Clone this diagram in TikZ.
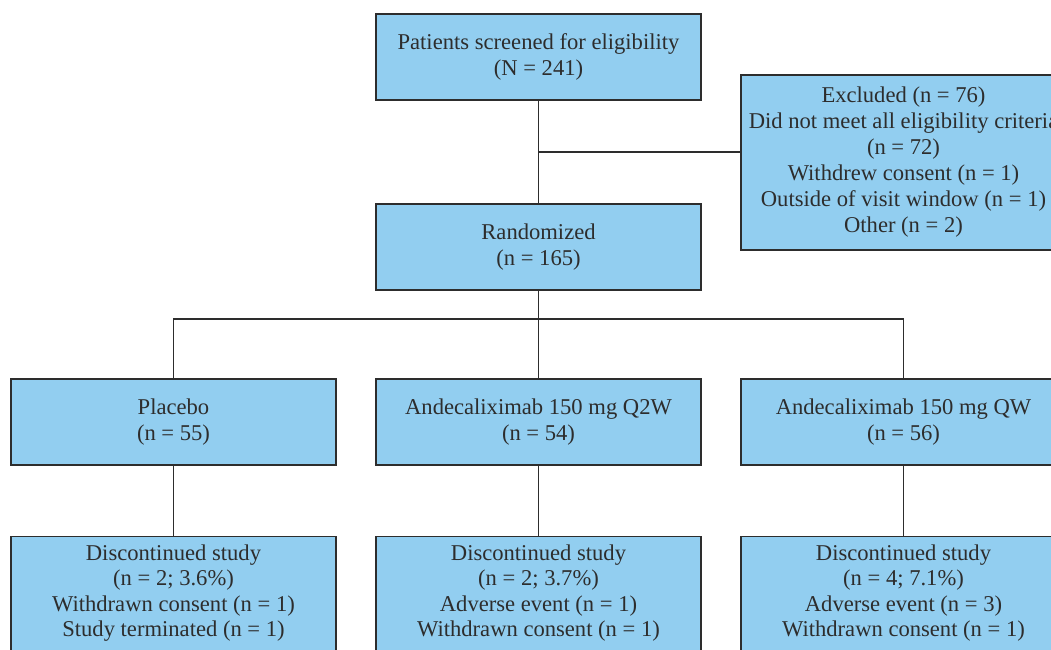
\documentclass[tikz,border=0pt]{standalone}
\usepackage{fontspec}
\setmainfont{Liberation Serif}
\usepackage{xcolor}
\usetikzlibrary{calc,positioning}
\definecolor{boxblue}{RGB}{146,206,240}
\definecolor{boxline}{RGB}{45,45,45}

\begin{document}
\begin{tikzpicture}[x=1pt,y=-1pt,
box/.style={rectangle,draw=boxline,line width=1.6pt,fill=boxblue,minimum width=325pt,minimum height=86pt,align=center,inner sep=0pt,font=\fontsize{22.6}{26}\selectfont,text=boxline},
dlab/.style={font=\fontsize{22.6}{25.6}\selectfont,text=boxline,align=center,anchor=north},
link/.style={draw=boxline,line width=1.4pt}]
	\clip (0,0) rectangle (1051,649);
	%screening
	\node[box] at (538.5,57) (screen) {Patients screened for eligibility\\(N = 241)};
	\node[box,minimum height=175pt] at (903.5,162.5) (excl) {Excluded (n = 76)\\Did not meet all eligibility criteria\\(n = 72)\\Withdrew consent (n = 1)\\Outside of visit window (n = 1)\\Other (n = 2)};
	\node[box] at (538.5,247) (rand) {Randomized\\(n = 165)};
	%arms
	\node[box] at (173.5,422) (plac) {Placebo\\(n = 55)};
	\node[box] at (538.5,422) (qtw) {Andecaliximab 150 mg Q2W\\(n = 54)};
	\node[box] at (903.5,422) (qw) {Andecaliximab 150 mg QW\\(n = 56)};
	%discontinued
	\node[box,minimum height=140pt,anchor=north] at ([yshift=-70pt]plac.south) (dplac) {};
	\node[box,minimum height=140pt,anchor=north] at ([yshift=-70pt]qtw.south) (dqtw) {};
	\node[box,minimum height=140pt,anchor=north] at ([yshift=-70pt]qw.south) (dqw) {};
	\node[dlab] at ([yshift=-5pt]dplac.north) (tplac) {Discontinued study\\(n = 2; 3.6\%)\\Withdrawn consent (n = 1)\\Study terminated (n = 1)};
	\node[dlab] at ([yshift=-5pt]dqtw.north) (tqtw) {Discontinued study\\(n = 2; 3.7\%)\\Adverse event (n = 1)\\Withdrawn consent (n = 1)};
	\node[dlab] at ([yshift=-5pt]dqw.north) (tqw) {Discontinued study\\(n = 4; 7.1\%)\\Adverse event (n = 3)\\Withdrawn consent (n = 1)};
	%connectors
	\draw[link] (screen.south) -- (rand.north);
	\coordinate (split) at ($(screen.south)!0.5!(rand.north)$);
	\draw[link] (split) -- (split -| excl.west);
	\coordinate (fork) at ([yshift=-28pt]rand.south);
	\draw[link] (rand.south) -- (fork);
	\draw[link] (plac.north) |- (fork) -| (qw.north);
	\draw[link] (fork) -- (qtw.north);
	\draw[link] (plac.south) -- (dplac.north);
	\draw[link] (qtw.south) -- (dqtw.north);
	\draw[link] (qw.south) -- (dqw.north);
\end{tikzpicture}
\end{document}
